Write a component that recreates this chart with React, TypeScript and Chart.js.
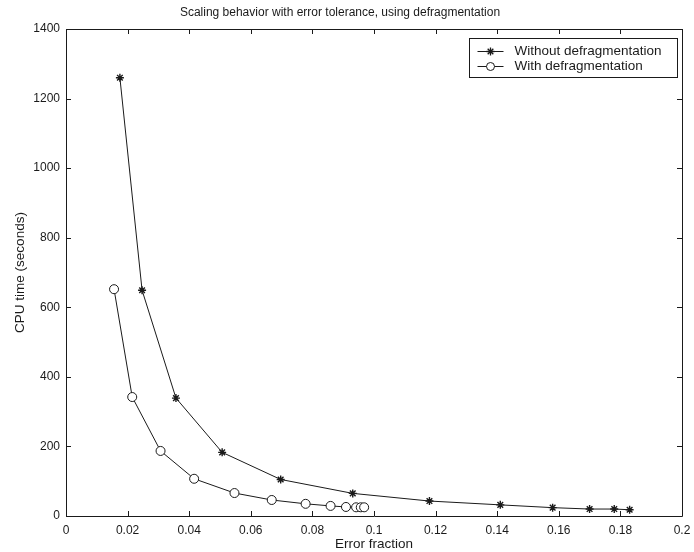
import React, { useEffect, useRef } from "react";
import { Chart, registerables } from "chart.js";

Chart.register(...registerables);

const titleText = "Scaling behavior with error tolerance, using defragmentation";
const xLabel = "Error fraction";
const yLabel = "CPU time (seconds)";
const seriesNames = ["Without defragmentation", "With defragmentation"];

const withoutX = [0.0175, 0.0247, 0.0357, 0.0507, 0.0697, 0.0931, 0.118, 0.141, 0.158, 0.17, 0.178, 0.183];
const withoutY = [1260, 649, 339, 183, 105, 65, 43, 32, 24, 20, 20, 18];
const withX = [0.0156, 0.0215, 0.0307, 0.0416, 0.0547, 0.0668, 0.0778, 0.0859, 0.0909, 0.0942, 0.0957, 0.0968];
const withY = [652, 342, 187, 107, 66, 46, 35, 29, 26, 25, 25, 25];

const FONT = "'Liberation Sans', Arial, Helvetica, sans-serif";
const INK = "#1a1a1a";

const boxPlugin = {
  id: "matlabBox",
  afterDraw(chart: any) {
    const { ctx, chartArea } = chart;
    const { left, right, top, bottom } = chartArea;
    const xs = chart.scales.x;
    const ys = chart.scales.y;
    ctx.save();
    ctx.strokeStyle = INK;
    ctx.lineWidth = 1;
    ctx.beginPath();
    ctx.rect(Math.round(left) + 0.5, Math.round(top) + 0.5, Math.round(right - left), Math.round(bottom - top));
    ctx.stroke();
    const tl = 5;
    ctx.beginPath();
    xs.ticks.forEach((t: any) => {
      const px = Math.round(xs.getPixelForValue(t.value)) + 0.5;
      ctx.moveTo(px, bottom);
      ctx.lineTo(px, bottom - tl);
      ctx.moveTo(px, top);
      ctx.lineTo(px, top + tl);
    });
    ys.ticks.forEach((t: any) => {
      const py = Math.round(ys.getPixelForValue(t.value)) + 0.5;
      ctx.moveTo(left, py);
      ctx.lineTo(left + tl, py);
      ctx.moveTo(right, py);
      ctx.lineTo(right - tl, py);
    });
    ctx.stroke();

    // legend
    const lw = 208;
    const lh = 39;
    const lx = Math.round(right - 5 - lw) + 0.5;
    const ly = Math.round(top + 9) + 0.5;
    ctx.fillStyle = "#ffffff";
    ctx.fillRect(lx, ly, lw, lh);
    ctx.strokeRect(lx, ly, lw, lh);
    ctx.font = `13.5px ${FONT}`;
    ctx.textBaseline = "middle";
    ctx.textAlign = "left";
    const rows = [
      { name: seriesNames[0], style: "star", y: ly + 13 },
      { name: seriesNames[1], style: "circle", y: ly + 28 },
    ];
    rows.forEach((r) => {
      ctx.strokeStyle = INK;
      ctx.beginPath();
      ctx.moveTo(lx + 8, r.y);
      ctx.lineTo(lx + 34, r.y);
      ctx.stroke();
      if (r.style === "circle") {
        ctx.fillStyle = "#fff";
        ctx.beginPath();
        ctx.arc(lx + 21, r.y, 4, 0, Math.PI * 2);
        ctx.fill();
        ctx.stroke();
      } else {
        const s = 4;
        ctx.lineWidth = 1.3;
        ctx.beginPath();
        for (let i = 0; i < 4; i++) {
          const a = (i * Math.PI) / 4;
          ctx.moveTo(lx + 21 - Math.cos(a) * s, r.y - Math.sin(a) * s);
          ctx.lineTo(lx + 21 + Math.cos(a) * s, r.y + Math.sin(a) * s);
        }
        ctx.stroke();
        ctx.lineWidth = 1;
      }
      ctx.fillStyle = INK;
      ctx.fillText(r.name, lx + 45, r.y);
    });
    ctx.restore();
  },
};

export default function App() {
  const ref = useRef<HTMLCanvasElement | null>(null);
  useEffect(() => {
    document.body.style.margin = "0";
    const canvas = ref.current!;
    const chart = new Chart(canvas, {
      type: "scatter",
      data: {
        datasets: [
          {
            label: seriesNames[0],
            data: withoutX.map((x, i) => ({ x, y: withoutY[i] })),
            showLine: true,
            borderColor: INK,
            backgroundColor: INK,
            borderWidth: 1,
            pointStyle: "star",
            pointRadius: 4,
            pointBorderWidth: 1.4,
            pointBorderColor: INK,
          },
          {
            label: seriesNames[1],
            data: withX.map((x, i) => ({ x, y: withY[i] })),
            showLine: true,
            borderColor: INK,
            backgroundColor: "#ffffff",
            borderWidth: 1,
            pointStyle: "circle",
            pointRadius: 4.5,
            pointBorderWidth: 1,
            pointBorderColor: INK,
            pointBackgroundColor: "#ffffff",
          },
        ],
      },
      options: {
        responsive: false,
        animation: false,
        layout: { padding: { left: -2, right: 12, top: 0, bottom: 0 } },
        plugins: {
          legend: { display: false },
          tooltip: { enabled: false },
          title: {
            display: true,
            text: titleText,
            color: INK,
            font: { family: FONT, size: 12, weight: "normal" },
            padding: { top: 5, bottom: 9.6 },
          },
        },
        scales: {
          x: {
            type: "linear",
            min: 0,
            max: 0.2,
            grid: { display: false, drawTicks: false },
            border: { display: false },
            ticks: {
              stepSize: 0.02,
              color: INK,
              padding: 7,
              font: { family: FONT, size: 12 },
              callback: (v: any) => String(Math.round(Number(v) * 100) / 100),
            },
            title: {
              display: true,
              text: xLabel,
              color: INK,
              font: { family: FONT, size: 13.5 },
              padding: { top: 0, bottom: 0 },
            },
            afterFit: (s: any) => {
              s.height = 36;
              s.paddingLeft = 0;
              s.paddingRight = 0;
            },
          },
          y: {
            type: "linear",
            min: 0,
            max: 1400,
            grid: { display: false, drawTicks: false },
            border: { display: false },
            ticks: {
              stepSize: 200,
              color: INK,
              padding: 6,
              font: { family: FONT, size: 12 },
              callback: (v: any) => String(v),
            },
            title: {
              display: true,
              text: yLabel,
              color: INK,
              font: { family: FONT, size: 13.5 },
              padding: { top: 14, bottom: 0 },
            },
            afterFit: (s: any) => {
              s.width = 68;
              s.paddingTop = 0;
              s.paddingBottom = 0;
            },
          },
        },
      },
      plugins: [boxPlugin],
    });
    return () => chart.destroy();
  }, []);
  return (
    <div style={{ position: "absolute", left: 0, top: 0, width: 694, height: 552, background: "#fff" }}>
      <canvas ref={ref} width={694} height={552} />
    </div>
  );
}
